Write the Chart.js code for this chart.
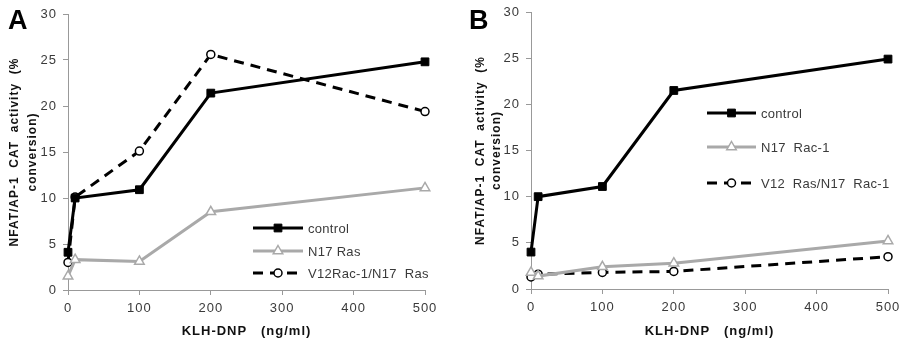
<!DOCTYPE html>
<html>
<head>
<meta charset="utf-8">
<script src="https://cdn.jsdelivr.net/npm/chart.js@4/dist/chart.umd.min.js"></script>
<style>
  body { margin: 0; background: #fff; }
  #wrap { display: flex; width: 900px; height: 343px; }
  canvas { display: block; }
</style>
</head>
<body>
<div id="wrap">
  <canvas id="chartA" width="450" height="343"></canvas>
  <canvas id="chartB" width="450" height="343"></canvas>
</div>
<script>
// KLH-DNP dose (ng/ml)
const doses = [0, 10, 100, 200, 500];
const xTicks = [0, 100, 200, 300, 400, 500];
const yTicks = [0, 5, 10, 15, 20, 25, 30];

// panel A
const controlA = [4.1, 10.0, 10.9, 21.4, 24.8];
const n17RasA = [1.5, 3.3, 3.1, 8.5, 11.1];
const v12Rac1A = [3.0, 10.1, 15.1, 25.6, 19.4];

// panel B
const controlB = [4.0, 10.0, 11.1, 21.5, 24.9];
const n17Rac1B = [1.8, 1.4, 2.4, 2.8, 5.2];
const v12RasB = [1.3, 1.6, 1.8, 1.9, 3.5];

const grey = '#a9a9a9';
const txt = '#3a3a3a';

function pts(vals) {
  return doses.map((d, i) => ({ x: d, y: vals[i] }));
}

function drawMarker(ctx, ds, x, y) {
  const r = ds.pointRadius;
  ctx.save();
  ctx.setLineDash([]);
  ctx.lineWidth = ds.pointBorderWidth;
  ctx.strokeStyle = ds.pointBorderColor;
  ctx.fillStyle = ds.pointBackgroundColor;
  ctx.beginPath();
  if (ds.pointStyle === 'rect') {
    const s = Math.SQRT1_2 * r;
    ctx.rect(x - s, y - s, 2 * s, 2 * s);
  } else if (ds.pointStyle === 'triangle') {
    ctx.moveTo(x, y - r);
    ctx.lineTo(x + r * 0.866, y + r * 0.5);
    ctx.lineTo(x - r * 0.866, y + r * 0.5);
    ctx.closePath();
  } else {
    ctx.arc(x, y, r, 0, Math.PI * 2);
  }
  ctx.fill();
  ctx.stroke();
  ctx.restore();
}

const insideLegend = {
  id: 'insideLegend',
  beforeDraw(chart) {
    chart.ctx.letterSpacing = '1px';
  },
  afterDraw(chart, args, opts) {
    const ctx = chart.ctx;
    ctx.save();
    ctx.letterSpacing = '0px';
    ctx.font = 'bold 27px "Liberation Sans", Arial, sans-serif';
    ctx.fillStyle = '#000';
    ctx.textBaseline = 'alphabetic';
    ctx.fillText(opts.label, opts.labelX, 29);
    ctx.restore();

    chart.data.datasets.forEach((ds, i) => {
      const y = opts.rows[i];
      ctx.save();
      ctx.strokeStyle = ds.borderColor;
      ctx.lineWidth = ds.borderWidth;
      ctx.setLineDash(ds.borderDash || []);
      ctx.beginPath();
      ctx.moveTo(opts.x, y);
      ctx.lineTo(opts.x + opts.len, y);
      ctx.stroke();
      ctx.restore();
      drawMarker(ctx, ds, opts.x + opts.len / 2, y);
      ctx.save();
      ctx.letterSpacing = '0.3px';
      ctx.font = '13px "Liberation Sans", Arial, sans-serif';
      ctx.fillStyle = txt;
      ctx.textBaseline = 'middle';
      ctx.fillText(ds.label, opts.x + opts.len + 5, y + 1);
      ctx.restore();
    });
  }
};

function makeChart(id, series, labels, box, legend) {
  const styles = [
    { borderColor: '#000', borderWidth: 3, pointStyle: 'rect', pointRadius: 5.5,
      pointBackgroundColor: '#000', pointBorderColor: '#000', pointBorderWidth: 1 },
    { borderColor: grey, borderWidth: 3, pointStyle: 'triangle', pointRadius: 5.5,
      pointBackgroundColor: '#fff', pointBorderColor: grey, pointBorderWidth: 1.5 },
    { borderColor: '#000', borderWidth: 3, borderDash: [10, 7], pointStyle: 'circle', pointRadius: 4,
      pointBackgroundColor: '#fff', pointBorderColor: '#000', pointBorderWidth: 1.5 }
  ];
  return new Chart(document.getElementById(id), {
    type: 'line',
    data: {
      datasets: series.map((s, i) => Object.assign({
        label: labels[i],
        data: pts(s),
        tension: 0,
        fill: false,
        clip: false,
        pointHoverRadius: 5
      }, styles[i]))
    },
    options: {
      responsive: false,
      devicePixelRatio: 1,
      animation: false,
      events: [],
      layout: { padding: { left: 0, top: box.top, right: box.right, bottom: 0 } },
      plugins: {
        legend: { display: false },
        tooltip: { enabled: false },
        insideLegend: legend
      },
      scales: {
        x: {
          type: 'linear',
          min: 0,
          max: 500,
          afterBuildTicks: s => { s.ticks = xTicks.map(v => ({ value: v })); },
          afterFit: s => { s.height = box.xh; s.paddingLeft = 0; s.paddingRight = 0; },
          grid: { drawOnChartArea: false, drawTicks: true, tickLength: 5, color: '#999' },
          border: { color: '#999', width: 1 },
          ticks: { color: txt, padding: 6, font: { size: 13, family: '"Liberation Sans", Arial' } },
          title: {
            display: true,
            text: 'KLH-DNP   (ng/ml)',
            color: '#111',
            padding: { top: 4 },
            font: { size: 13, weight: 'bold', family: '"Liberation Sans", Arial' }
          }
        },
        y: {
          min: 0,
          max: 30,
          afterBuildTicks: s => { s.ticks = yTicks.map(v => ({ value: v })); },
          afterFit: s => { s.width = box.yw; s.paddingTop = 0; s.paddingBottom = 0; },
          grid: { drawOnChartArea: false, drawTicks: true, tickLength: 5, color: '#999' },
          border: { color: '#999', width: 1 },
          ticks: { color: txt, padding: 6, font: { size: 13, family: '"Liberation Sans", Arial' } },
          title: {
            display: true,
            text: ['NFAT/AP-1  CAT  activity  (%', 'conversion)'],
            color: '#111',
            padding: { top: box.titlePad, bottom: 0 },
            font: { size: 12, weight: 'bold', family: '"Liberation Sans", Arial', lineHeight: box.titleLh }
          }
        }
      }
    },
    plugins: [insideLegend]
  });
}

makeChart('chartA', [controlA, n17RasA, v12Rac1A],
  ['control', 'N17 Ras', 'V12Rac-1/N17  Ras'],
  { top: 14, right: 25, yw: 68, xh: 53, titlePad: 6, titleLh: 1.5 },
  { label: 'A', labelX: 8, x: 253, len: 50, rows: [228, 251, 273] });

makeChart('chartB', [controlB, n17Rac1B, v12RasB],
  ['control', 'N17  Rac-1', 'V12  Ras/N17  Rac-1'],
  { top: 12, right: 12, yw: 81, xh: 54, titlePad: 23, titleLh: 1.34 },
  { label: 'B', labelX: 19, x: 257, len: 49, rows: [113, 147, 183] });
</script>
</body>
</html>
